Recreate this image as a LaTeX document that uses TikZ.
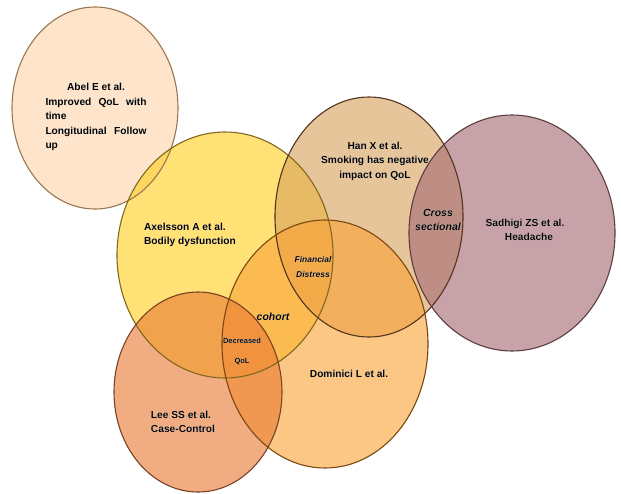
\documentclass[tikz,border=0pt]{standalone}
\usepackage{fontspec}
\setmainfont{Liberation Sans}
\usepackage[outline]{contour}
\usetikzlibrary{positioning}
\contourlength{1.2pt}
\newcommand{\glow}[1]{\contour{white}{#1}}
\definecolor{abelc}{RGB}{252,212,170}
\definecolor{axelc}{RGB}{255,207,33}
\definecolor{hanc}{RGB}{217,162,93}
\definecolor{sadc}{RGB}{165,107,117}
\definecolor{domc}{RGB}{250,163,57}
\definecolor{leec}{RGB}{233,123,52}
\definecolor{abell}{RGB}{156,118,80}
\definecolor{axell}{RGB}{128,104,30}
\definecolor{hanl}{RGB}{80,52,28}
\definecolor{sadl}{RGB}{92,62,62}
\definecolor{doml}{RGB}{122,72,16}
\definecolor{leel}{RGB}{120,66,36}
\tikzset{
  blobfill/.style={fill opacity=0.62},
  blobline/.style={line width=1.1pt},
  txt/.style={font=\fontsize{10.2}{14.5}\selectfont\bfseries,align=left,inner sep=0pt},
  ctxt/.style={txt,align=center},
  ittxt/.style={font=\fontsize{10.5}{14}\selectfont\bfseries\itshape,align=center,inner sep=0pt},
  smalltxt/.style={font=\fontsize{7.5}{20}\selectfont\bfseries,align=center,inner sep=0pt}
}
\begin{document}
\begin{tikzpicture}[x=1pt,y=-1pt]
  \useasboundingbox (0,0) rectangle (621,493);
  % circles
  \foreach \cx/\cy/\rx/\ry/\c in {95/108/83/101/abelc,225/255/108/123/axelc,369/217/94/120/hanc,
      512/233/103/118/sadc,325/344/103/124/domc,198/392/84/100/leec}
    \fill[\c,blobfill] (\cx,\cy) ellipse [x radius=\rx,y radius=\ry];
  \foreach \cx/\cy/\rx/\ry/\c in {95/108/83/101/abell,225/255/108/123/axell,369/217/94/120/hanl,
      512/233/103/118/sadl,325/344/103/124/doml,198/392/84/100/leel}
    \draw[\c,blobline] (\cx,\cy) ellipse [x radius=\rx,y radius=\ry];

  % labels
  \node[txt] (abel) at (96,117) {\glow{\hbox to 101pt{\hfil Abel E et al.\hfil}}\\
    \glow{\hbox to 101pt{Improved\hfill QoL\hfill with}}\\ \glow{time}\\
    \glow{\hbox to 101pt{Longitudinal\hfill Follow}}\\ \glow{up}};
  \node[txt] (axel) at (190,235) {\glow{Axelsson A et al.}\\ \glow{Bodily dysfunction}};
  \node[ctxt] (han) at (375,161) {\glow{Han X et al.}\\ \glow{Smoking has negative}\\ \glow{impact on QoL}};
  \node[ctxt] (sad) at (525,230) {\glow{Sadhigi ZS et al.}\\ \glow{\hspace{8pt}Headache}};
  \node[ctxt] (dom) at (349,374) {\glow{Dominici L et al.}};
  \node[txt] (lee) at (183,422) {\glow{Lee SS et al.}\\ \glow{Case-Control}};
  \node[ittxt,font=\fontsize{8.5}{15}\selectfont\bfseries\itshape] (fin) at (313,267) {\glow{Financial}\\ \glow{Distress}};
  \node[ittxt] (cross) at (438,220) {\glow{Cross}\\ \glow{sectional}};
  \node[ittxt] (coh) at (273,317) {\glow{cohort}};
  \node[smalltxt] (dec) at (242,352) {\glow{Decreased}\\ \glow{QoL}};
\end{tikzpicture}
\end{document}
